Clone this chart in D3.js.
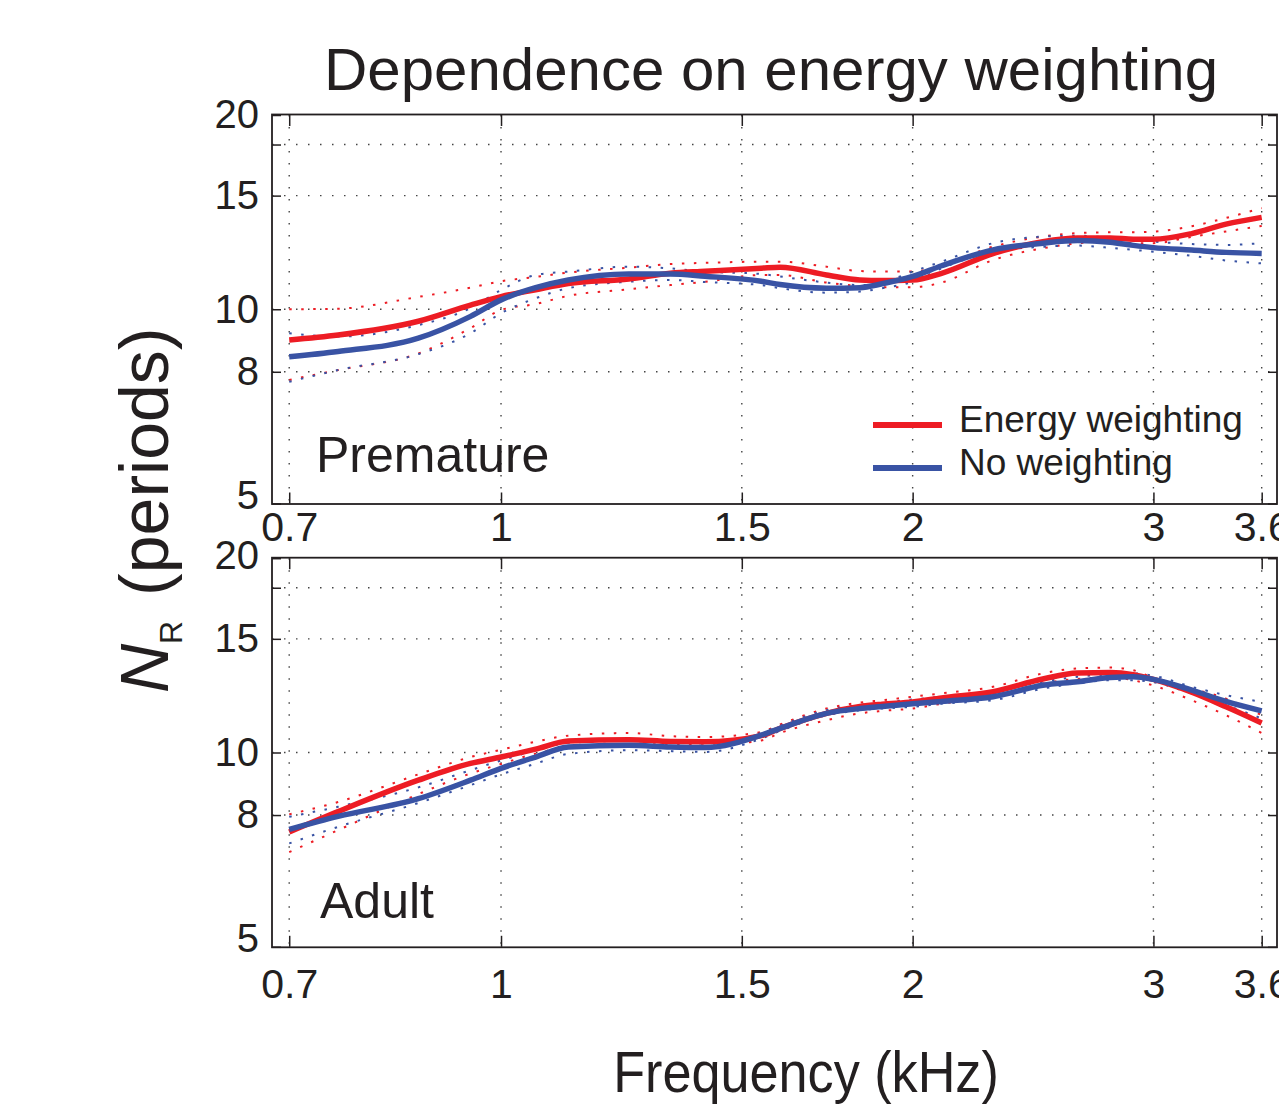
<!DOCTYPE html>
<html>
<head>
<meta charset="utf-8">
<script src="https://cdn.jsdelivr.net/npm/d3@7"></script>
<style>
    body { margin: 0; background: #fff; }
    svg { display: block; font-family: "Liberation Sans", Arial, Helvetica, sans-serif; }
</style>
</head>
<body>
<svg id="chart" width="1279" height="1105"></svg>
<script>
// Frequency grid (kHz) shared by all curves
const freqs = [0.7, 0.76, 0.87, 0.95, 1.0, 1.06, 1.12, 1.24, 1.33, 1.41, 1.55, 1.6, 1.73,
    1.83, 1.9, 2.0, 2.1, 2.29, 2.49, 2.64, 2.79, 2.9, 3.0, 3.2, 3.39, 3.6];

// Premature panel
const premEnergy   = [8.96, 9.12, 9.58, 10.15, 10.46, 10.72, 10.96, 11.14, 11.37, 11.45, 11.58, 11.62, 11.3,
    11.1, 11.08, 11.1, 11.37, 12.2, 12.73, 12.9, 12.9, 12.84, 12.84, 13.1, 13.55, 13.88];
const premEnergyHi = [10.0, 10.02, 10.45, 10.8, 11.05, 11.22, 11.4, 11.6, 11.75, 11.8, 11.85, 11.85, 11.64,
    11.46, 11.44, 11.44, 11.7, 12.5, 12.96, 13.12, 13.16, 13.16, 13.19, 13.45, 13.85, 14.35];
const premEnergyLo = [7.77, 8.05, 8.54, 9.35, 9.97, 10.19, 10.49, 10.74, 10.9, 11.03, 11.3, 11.3, 11.0,
    10.86, 10.82, 10.82, 11.0, 11.92, 12.43, 12.65, 12.73, 12.66, 12.66, 12.95, 13.2, 13.46];
const premNone     = [8.44, 8.6, 9.02, 9.75, 10.34, 10.8, 11.1, 11.34, 11.34, 11.25, 11.05, 10.92, 10.78,
    10.8, 10.95, 11.24, 11.68, 12.36, 12.66, 12.78, 12.7, 12.56, 12.46, 12.35, 12.25, 12.2];
const premNoneHi   = [9.18, 9.07, 9.45, 10.04, 10.71, 11.3, 11.44, 11.64, 11.57, 11.44, 11.34, 11.24, 11.0,
    10.9, 11.0, 11.44, 11.85, 12.66, 12.96, 13.0, 12.9, 12.8, 12.73, 12.62, 12.58, 12.66];
const premNoneLo   = [7.72, 8.05, 8.52, 9.18, 9.86, 10.4, 10.78, 11.03, 11.1, 11.02, 10.9, 10.78, 10.61,
    10.65, 10.78, 11.03, 11.57, 12.28, 12.5, 12.55, 12.45, 12.36, 12.28, 12.1, 11.9, 11.78];

// Adult panel
const adultEnergy   = [7.53, 8.1, 9.06, 9.62, 9.84, 10.12, 10.42, 10.47, 10.4, 10.39, 10.62, 10.9, 11.5,
    11.78, 11.88, 11.98, 12.15, 12.42, 13.0, 13.28, 13.3, 13.2, 12.98, 12.4, 11.77, 11.11];
const adultEnergyHi = [8.02, 8.38, 9.25, 9.84, 10.1, 10.39, 10.62, 10.72, 10.6, 10.57, 10.76, 11.05, 11.7,
    11.95, 12.05, 12.2, 12.35, 12.64, 13.26, 13.5, 13.54, 13.41, 13.05, 12.56, 12.12, 11.42];
const adultEnergyLo = [7.01, 7.58, 8.62, 9.28, 9.6, 9.96, 10.2, 10.3, 10.3, 10.26, 10.44, 10.72, 11.22,
    11.5, 11.6, 11.7, 11.9, 12.2, 12.79, 13.0, 13.07, 12.94, 12.7, 12.05, 11.42, 10.72];
const adultNone     = [7.6, 7.96, 8.48, 9.06, 9.45, 9.84, 10.2, 10.26, 10.2, 10.18, 10.64, 10.9, 11.5,
    11.7, 11.78, 11.9, 12.0, 12.2, 12.71, 12.87, 13.07, 13.1, 12.98, 12.49, 12.0, 11.6];
const adultNoneHi   = [7.95, 8.24, 8.83, 9.39, 9.72, 10.08, 10.35, 10.42, 10.36, 10.33, 10.72, 11.0, 11.63,
    11.85, 11.95, 12.08, 12.2, 12.42, 12.87, 13.1, 13.22, 13.26, 13.15, 12.64, 12.27, 11.98];
const adultNoneLo   = [7.23, 7.67, 8.35, 8.9, 9.25, 9.61, 9.95, 10.08, 10.05, 10.02, 10.51, 10.8, 11.42,
    11.62, 11.7, 11.77, 11.9, 12.05, 12.56, 12.8, 12.94, 12.94, 12.85, 12.34, 11.84, 11.29];

const xTicks = [0.7, 1, 1.5, 2, 3, 3.6];
const xTickLabels = ['0.7', '1', '1.5', '2', '3', '3.6'];
const yTicks = [5, 8, 10, 15, 18, 20];
const yTickLabels = ['5', '8', '10', '15', '', '20'];

const seriesNames = ['Energy weighting', 'No weighting'];
const panelNames = ['Premature', 'Adult'];

const RED = '#ed1c24';
const BLUE = '#3953a4';
const INK = '#231f20';

const svg = d3.select('#chart');

const x = d3.scaleLog().domain([0.68, 3.694]).range([272, 1277]);

const panels = [
    {
        name: panelNames[0], top: 115, bottom: 503.5, labelTop: 511.5,
        series: [
            { color: RED, mid: premEnergy, hi: premEnergyHi, lo: premEnergyLo },
            { color: BLUE, mid: premNone, hi: premNoneHi, lo: premNoneLo }
        ],
        textX: 316, textY: 472, legend: true
    },
    {
        name: panelNames[1], top: 558.2, bottom: 946.8, labelTop: 969,
        series: [
            { color: RED, mid: adultEnergy, hi: adultEnergyHi, lo: adultEnergyLo },
            { color: BLUE, mid: adultNone, hi: adultNoneHi, lo: adultNoneLo }
        ],
        textX: 320, textY: 918, legend: false
    }
];

function styleAxisText(g, size) {
    g.attr('font-family', null).attr('font-size', null);
    g.selectAll('text')
        .attr('fill', INK)
        .style('font-size', size + 'px');
    g.selectAll('.tick line').attr('stroke', INK).attr('stroke-width', 1.5);
    g.select('.domain').remove();
}

panels.forEach(p => {
    const y = d3.scaleLog().domain([5, 20]).range([p.bottom, p.top]);
    const g = svg.append('g');

    // dotted grid
    g.selectAll('line.vgrid')
        .data(xTicks)
        .enter().append('line')
        .attr('x1', d => x(d)).attr('x2', d => x(d))
        .attr('y1', p.top).attr('y2', p.bottom)
        .attr('stroke', '#444').attr('stroke-width', 1.4)
        .attr('stroke-dasharray', '1.5,10.5');

    g.selectAll('line.hgrid')
        .data(yTicks.filter(d => d > 5 && d < 20))
        .enter().append('line')
        .attr('x1', x.range()[0]).attr('x2', x.range()[1])
        .attr('y1', d => y(d)).attr('y2', d => y(d))
        .attr('stroke', '#444').attr('stroke-width', 1.4)
        .attr('stroke-dasharray', '1.5,10.5');

    // curves
    const line = d3.line()
        .x((d, i) => x(freqs[i]))
        .y(d => y(d))
        .curve(d3.curveMonotoneX);

    p.series.forEach(s => {
        [s.hi, s.lo].forEach(b => {
            g.append('path')
                .datum(b)
                .attr('d', line)
                .attr('fill', 'none')
                .attr('stroke', s.color)
                .attr('stroke-width', 2)
                .attr('stroke-dasharray', '2.5,9.5');
        });
    });
    p.series.forEach(s => {
        g.append('path')
            .datum(s.mid)
            .attr('d', line)
            .attr('fill', 'none')
            .attr('stroke', s.color)
            .attr('stroke-width', 5.5)
            .attr('stroke-linejoin', 'round');
    });

    // axes with inward ticks
    const bottomAxis = d3.axisBottom(x)
        .tickValues(xTicks)
        .tickFormat((d, i) => xTickLabels[i])
        .tickSizeInner(-11).tickSizeOuter(0)
        .tickPadding(p.labelTop - p.bottom);
    g.append('g')
        .attr('transform', `translate(0,${p.bottom})`)
        .call(bottomAxis)
        .call(a => styleAxisText(a, 41));

    g.append('g')
        .attr('transform', `translate(0,${p.top})`)
        .call(d3.axisTop(x).tickValues(xTicks).tickFormat('').tickSizeInner(-11).tickSizeOuter(0))
        .call(a => styleAxisText(a, 41));

    g.append('g')
        .attr('transform', `translate(${x.range()[0]},0)`)
        .call(d3.axisLeft(y)
            .tickValues(yTicks)
            .tickFormat((d, i) => yTickLabels[i])
            .tickSizeInner(-9).tickSizeOuter(0)
            .tickPadding(13))
        .call(a => styleAxisText(a, 40))
        .call(a => a.selectAll('.tick text')
            .attr('y', d => d === 5 ? -8 : (d === 20 && !p.legend ? -3 : 0)));

    g.append('g')
        .attr('transform', `translate(${x.range()[1]},0)`)
        .call(d3.axisRight(y).tickValues(yTicks).tickFormat('').tickSizeInner(-9).tickSizeOuter(0))
        .call(a => styleAxisText(a, 40));

    // frame
    g.append('rect')
        .attr('x', x.range()[0]).attr('y', p.top - 0.5)
        .attr('width', x.range()[1] - x.range()[0])
        .attr('height', p.bottom - p.top + 1)
        .attr('fill', 'none')
        .attr('stroke', INK)
        .attr('stroke-width', 1.8);

    g.append('text')
        .attr('x', p.textX).attr('y', p.textY)
        .attr('fill', INK)
        .style('font-size', '50px')
        .text(p.name);

    if (p.legend) {
        const leg = g.append('g');
        const colors = [RED, BLUE];
        const rowsY = [425, 468];
        seriesNames.forEach((name, i) => {
            leg.append('line')
                .attr('x1', 873).attr('x2', 942)
                .attr('y1', rowsY[i]).attr('y2', rowsY[i])
                .attr('stroke', colors[i])
                .attr('stroke-width', 6);
            leg.append('text')
                .attr('x', 959).attr('y', rowsY[i] + 7)
                .attr('fill', INK)
                .style('font-size', '37px')
                .text(name);
        });
    }
});

// title
svg.append('text')
    .attr('x', 771).attr('y', 90)
    .attr('text-anchor', 'middle')
    .attr('fill', INK)
    .style('font-size', '60px')
    .text('Dependence on energy weighting');

// x label
svg.append('text')
    .attr('transform', 'translate(806,1092) scale(0.9,1)')
    .attr('text-anchor', 'middle')
    .attr('fill', INK)
    .style('font-size', '58px')
    .text('Frequency (kHz)');

// y label, N with subscript R
const yl = svg.append('text')
    .attr('transform', 'translate(168,693) rotate(-90)')
    .attr('fill', INK)
    .style('font-size', '68px');
yl.append('tspan').style('font-style', 'italic').text('N');
yl.append('tspan').attr('dy', 14).style('font-size', '32px').text('R');
yl.append('tspan').attr('dy', -14).attr('dx', 6).text('\u00a0(periods)');
</script>
</body>
</html>
